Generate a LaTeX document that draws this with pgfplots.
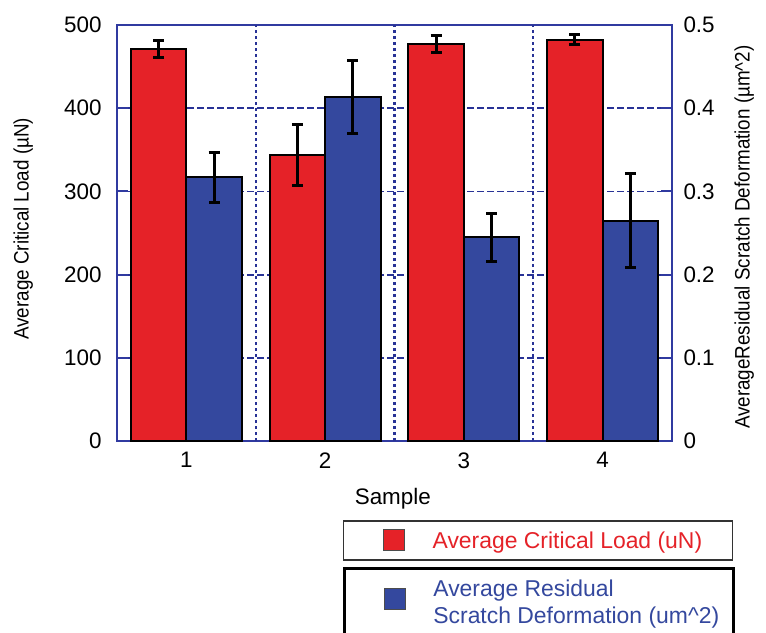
\documentclass[border=0pt]{standalone}
\usepackage{pgfplots}
\usepackage{pgfplotstable}
\pgfplotsset{compat=1.18}
\usepackage{fontspec}
\setmainfont{Liberation Sans}
\newfontfamily\narrowfont[FakeStretch=0.9]{Liberation Sans}
\definecolor{barred}{RGB}{229,34,40}
\definecolor{barblue}{RGB}{52,72,158}
\definecolor{axblue}{RGB}{48,58,160}
\definecolor{gridblue}{RGB}{40,50,150}

\pgfplotstableread{
x y e
1 471 10.5
2 344 37
3 477 10.5
4 482 6
}\loadtable
\pgfplotstableread{
x y e
1 0.317 0.030
2 0.413 0.044
3 0.245 0.029
4 0.265 0.057
}\deftable

\pgfplotsset{
 common/.style={
  at={(117bp,-441bp)}, anchor=south west,
  scale only axis, width=555bp, height=416bp,
  xmin=0.5, xmax=4.5,
  ybar, bar width=0.4,
  axis line style={axblue, line width=2bp},
  tick style={axblue, line width=2bp},
  major tick length=11bp,
  tick align=inside,
  tick label style={font=\fontsize{22.5}{26}\selectfont},
  /pgf/number format/assume math mode=true,
  ylabel style={font=\narrowfont\fontsize{21}{25}\selectfont},
  legend cell align=left,
 },
 errs/.style={
  error bars/.cd, y dir=both, y explicit,
  error bar style={black, line width=3bp},
  error mark options={rotate=90, mark size=5.5bp, line width=3bp, black},
  /pgfplots/.cd,
 },
}

\begin{document}
\begin{tikzpicture}
\useasboundingbox (0,0) rectangle (766bp,-633bp);
\begin{axis}[common,
  ymin=0, ymax=500, ytick={0,100,200,300,400,500}, ytick pos=left,
  xtick={1,2,3,4}, xtick pos=bottom, xtick style={draw=none},
  xticklabel style={yshift=-8bp},
  yticklabel style={xshift=-12bp},
  ymajorgrids,
  y grid style={gridblue, line width=1.8bp, dash pattern=on 6.5bp off 3.5bp},
  x grid style={gridblue, line width=2.2bp, dash pattern=on 3.5bp off 2.5bp},
  extra x ticks={1.5,2.5,3.5}, extra x tick labels={},
  extra x tick style={grid=major, major tick length=0pt,
    major grid style={gridblue, line width=2.2bp, dash pattern=on 3.5bp off 2.5bp}},
  ylabel={Average Critical Load (µN)},
  ylabel style={at={(axis description cs:-0.169,0.51)}, anchor=center},
  xlabel={Sample},
  xlabel style={at={(axis description cs:0.497,-0.138)}, anchor=center, font=\fontsize{22.5}{27}\selectfont},
  legend style={at={(axis description cs:0.407,-0.19)}, anchor=north west,
    draw=black!80, line width=1.5bp, fill=white,
    inner xsep=0pt, inner ysep=9bp, column sep=0pt,
    nodes={inner sep=0pt, text depth=0pt},
    font=\fontsize{23}{28}\selectfont},
]
\addplot[fill=barred, draw=black, line width=2bp, bar shift=-0.2,
  legend image code/.code={\path[use as bounding box, draw=none, fill=none] (-40bp,-10.5bp) rectangle (49bp,10.5bp);
    \draw[fill=barred, draw=black!70, line width=1bp] (0bp,-10.5bp) rectangle (21bp,10.5bp);}, errs]
  table[x=x, y=y, y error=e] {\loadtable};
\addlegendentry{\makebox[300bp][l]{\textcolor{barred}{Average Critical Load (uN)}}}
\end{axis}
\begin{axis}[common,
  ymin=0, ymax=0.5, ytick={0,0.1,0.2,0.3,0.4,0.5},
  yticklabels={0,0.1,0.2,0.3,0.4,0.5},
  axis y line*=right, axis x line=none, tick align=inside,
  yticklabel style={xshift=8bp},
  ylabel={AverageResidual Scratch Deformation (µm\textasciicircum 2)},
  ylabel style={at={(axis description cs:1.130,0.49)}, anchor=center},
  legend style={at={(axis description cs:0.407,-0.3029)}, anchor=north west,
    draw=black, line width=3bp, fill=white,
    inner xsep=0pt, inner ysep=11bp, column sep=0pt,
    nodes={inner sep=0pt, text depth=, text height=},
    font=\fontsize{23}{27}\selectfont},
]
\addplot[fill=barblue, draw=black, line width=2bp, bar shift=0.2,
  legend image code/.code={\path[use as bounding box, draw=none, fill=none] (-40bp,-10.5bp) rectangle (49bp,10.5bp);
    \draw[fill=barblue, draw=black!70, line width=1bp] (0bp,-6bp) rectangle (21bp,15bp);}, errs]
  table[x=x, y=y, y error=e] {\deftable};
\addlegendentry{\parbox{300bp}{\color{barblue}\fontsize{23}{27}\selectfont Average Residual\\Scratch Deformation (um\textasciicircum 2)}}
\end{axis}
\end{tikzpicture}
\end{document}
